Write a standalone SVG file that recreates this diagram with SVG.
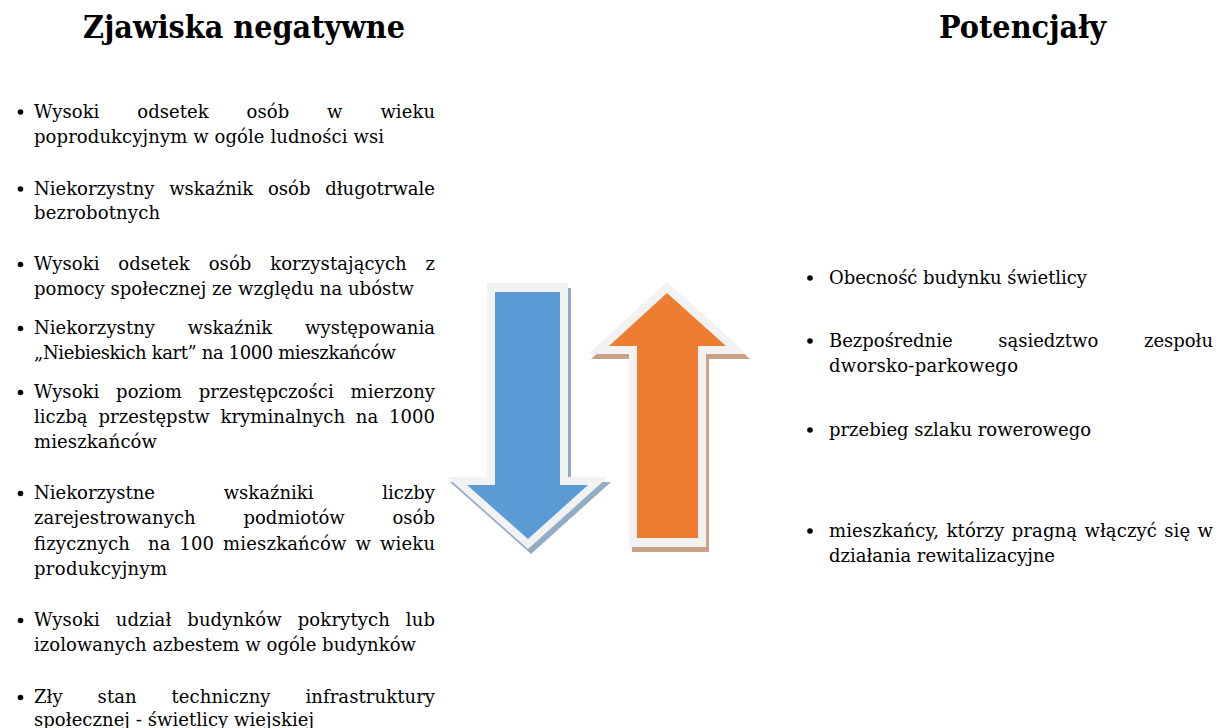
<svg xmlns="http://www.w3.org/2000/svg" width="1218" height="728" viewBox="0 0 1218 728">
<style>
.t{font-family:"DejaVu Serif","Liberation Serif",serif;font-size:18px;fill:#000}
.h{font-family:"DejaVu Serif","Liberation Serif",serif;font-weight:bold;font-size:31px;fill:#000}
.b{fill:#000}
.border{fill:#f2f2f2}
</style>
<rect width="1218" height="728" fill="#fff"/>
<g id="title-negative"><text class="h" x="83" y="38" textLength="322" lengthAdjust="spacingAndGlyphs">Zjawiska negatywne</text></g>
<g id="title-potential"><text class="h" x="939" y="38" textLength="167" lengthAdjust="spacingAndGlyphs">Potencjały</text></g>

<g id="negatives">
<g id="neg-1"><circle class="b" cx="20.5" cy="112" r="2.8"/>
<text class="t" x="34" y="117.5" textLength="401" lengthAdjust="spacing" word-spacing="32">Wysoki odsetek osób w wieku</text>
<text class="t" x="34" y="143" textLength="350" lengthAdjust="spacing">poprodukcyjnym w ogóle ludności wsi</text></g>
<g id="neg-2"><circle class="b" cx="20.5" cy="189" r="2.8"/>
<text class="t" x="34" y="194.5" textLength="401" lengthAdjust="spacing" word-spacing="9">Niekorzystny wskaźnik osób długotrwale</text>
<text class="t" x="34" y="219" textLength="126" lengthAdjust="spacing">bezrobotnych</text></g>
<g id="neg-3"><circle class="b" cx="20.5" cy="264.5" r="2.8"/>
<text class="t" x="34" y="270" textLength="401" lengthAdjust="spacing" word-spacing="13">Wysoki odsetek osób korzystających z</text>
<text class="t" x="34" y="295" textLength="380" lengthAdjust="spacing">pomocy społecznej ze względu na ubóstw</text></g>
<g id="neg-4"><circle class="b" cx="20.5" cy="328.5" r="2.8"/>
<text class="t" x="34" y="334" textLength="401" lengthAdjust="spacing" word-spacing="27">Niekorzystny wskaźnik występowania</text>
<text class="t" x="34" y="359" textLength="362" lengthAdjust="spacing">„Niebieskich kart” na 1000 mieszkańców</text></g>
<g id="neg-5"><circle class="b" cx="20.5" cy="392.5" r="2.8"/>
<text class="t" x="34" y="398" textLength="401" lengthAdjust="spacing" word-spacing="11">Wysoki poziom przestępczości mierzony</text>
<text class="t" x="34" y="423" textLength="401" lengthAdjust="spacing" word-spacing="5">liczbą przestępstw kryminalnych na 1000</text>
<text class="t" x="34" y="447.5" textLength="123" lengthAdjust="spacing">mieszkańców</text></g>
<g id="neg-6"><circle class="b" cx="20.5" cy="493.5" r="2.8"/>
<text class="t" x="34" y="499" textLength="401" lengthAdjust="spacing" word-spacing="63">Niekorzystne wskaźniki liczby</text>
<text class="t" x="34" y="524" textLength="401" lengthAdjust="spacing" word-spacing="42">zarejestrowanych podmiotów osób</text>
<text class="t" x="34" y="549.5" textLength="401" lengthAdjust="spacing" word-spacing="3">fizycznych&#160; na 100 mieszkańców w wieku</text>
<text class="t" x="34" y="574.5" textLength="133" lengthAdjust="spacing">produkcyjnym</text></g>
<g id="neg-7"><circle class="b" cx="20.5" cy="620.5" r="2.8"/>
<text class="t" x="34" y="626" textLength="401" lengthAdjust="spacing" word-spacing="10">Wysoki udział budynków pokrytych lub</text>
<text class="t" x="34" y="651" textLength="382" lengthAdjust="spacing">izolowanych azbestem w ogóle budynków</text></g>
<g id="neg-8"><circle class="b" cx="20.5" cy="697.5" r="2.8"/>
<text class="t" x="34" y="703" textLength="401" lengthAdjust="spacing" word-spacing="29">Zły stan techniczny infrastruktury</text>
<text class="t" x="34" y="726" textLength="280" lengthAdjust="spacing">społecznej - świetlicy wiejskiej</text></g>
</g>

<g id="potentials">
<g id="pot-1"><circle class="b" cx="810" cy="278" r="2.8"/>
<text class="t" x="829" y="283.5" textLength="258" lengthAdjust="spacing">Obecność budynku świetlicy</text></g>
<g id="pot-2"><circle class="b" cx="810" cy="341" r="2.8"/>
<text class="t" x="829" y="346.5" textLength="384" lengthAdjust="spacing" word-spacing="40">Bezpośrednie sąsiedztwo zespołu</text>
<text class="t" x="829" y="371.5" textLength="189" lengthAdjust="spacing">dworsko-parkowego</text></g>
<g id="pot-3"><circle class="b" cx="810" cy="430" r="2.8"/>
<text class="t" x="829" y="435.5" textLength="262" lengthAdjust="spacing">przebieg szlaku rowerowego</text></g>
<g id="pot-4"><circle class="b" cx="810" cy="531" r="2.8"/>
<text class="t" x="829" y="536.5" textLength="384" lengthAdjust="spacing" word-spacing="1.5">mieszkańcy, którzy pragną włączyć się w</text>
<text class="t" x="829" y="561.5" textLength="226" lengthAdjust="spacing">działania rewitalizacyjne</text></g>
</g>

<g id="arrows">
<g id="arrow-down">
<polygon fill="#93acc5" points="490,288 571,288 571,482 611,482 531,554 450,482 490,482"/>
<polygon class="border" points="487,283 568,283 568,477 608,477 528,549 447,477 487,477"/>
<polygon fill="#5b9bd5" points="495,292 560,292 560,485 588,485 528,539 467,485 495,485"/>
</g>
<g id="arrow-up">
<polygon fill="#c9a187" points="670,287 750,359 709,359 709,552 632,552 632,359 591,359"/>
<polygon class="border" points="667,282 747,354 706,354 706,547 629,547 629,354 588,354"/>
<polygon fill="#ed7d31" points="667,293 726,346 698,346 698,538 637,538 637,346 609,346"/>
</g>
</g>
</svg>
